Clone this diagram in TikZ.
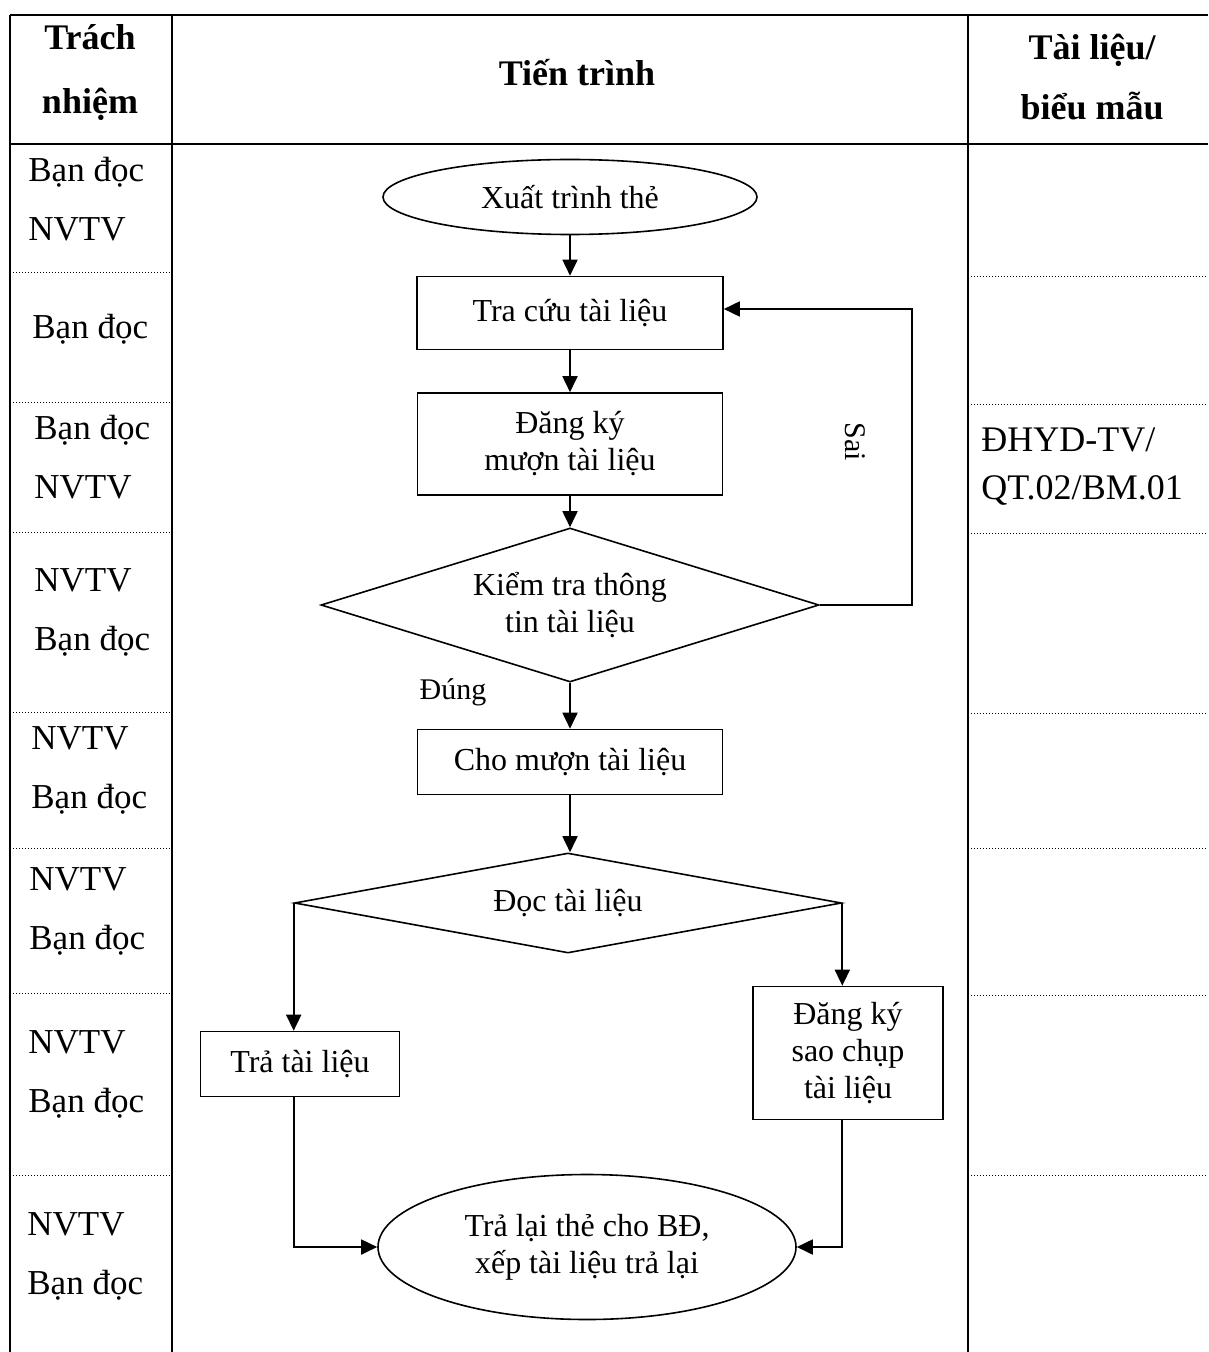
\documentclass[tikz,border=0pt]{standalone}
\usepackage{fontspec}
\setmainfont{Liberation Serif}
\usetikzlibrary{positioning,arrows.meta,shapes.geometric,calc}

\begin{document}
\begin{tikzpicture}[x=0.5pt, y=-0.5pt,
  proc/.style={draw, line width=0.8pt, align=center, inner sep=2pt, font=\fontsize{16}{18.5}\selectfont},
  term/.style={proc, ellipse},
  dec/.style={proc, diamond, shape aspect=3, inner sep=0pt},
  arr/.style={-{Triangle[length=8pt, width=7.5pt]}, line width=0.9pt},
  lbl/.style={inner sep=1pt, font=\fontsize{15}{18}\selectfont},
  who/.style={anchor=west, align=left, inner sep=0pt, font=\fontsize{17.5}{29.5}\selectfont},
  hdr/.style={align=center, font=\bfseries\fontsize{18}{32}\selectfont},
  rule/.style={line width=0.9pt},
  sep/.style={densely dotted, line width=0.5pt},
]
\useasboundingbox (0,0) rectangle (1208,1352);

% table frame
\draw[rule] (10,15) -- (1208,15) (10,144) -- (1208,144);
\foreach \x in {10,172,968} {\draw[rule] (\x,15) -- (\x,1352);}
\foreach \yl/\yr in {273/277,403/405,532/533,712/713,848/848,993/995,1175/1175} {
  \draw[sep] (10,\yl) -- (172,\yl);
  \draw[sep] (968,\yr) -- (1208,\yr);
}

% headers
\node[hdr] (hwho) at (90,73) {Trách\\nhiệm};
\node[hdr] (hflow) at (577,73) {Tiến trình};
\node[hdr, font=\bfseries\fontsize{18}{30}\selectfont] (hdoc) at (1092,77) {Tài liệu/\\biểu mẫu};

% responsibilities
\node[who] (r1) at (28,199) {Bạn đọc\\NVTV};
\node[who] (r2) at (32,329) {Bạn đọc};
\node[who] (r3) at (34,457) {Bạn đọc\\NVTV};
\node[who] (r4) at (34,612) {NVTV\\Bạn đọc};
\node[who] (r5) at (31,770) {NVTV\\Bạn đọc};
\node[who] (r6) at (29,911) {NVTV\\Bạn đọc};
\node[who] (r7) at (28,1074) {NVTV\\Bạn đọc};
\node[who] (r8) at (27,1256) {NVTV\\Bạn đọc};

% forms
\node[who, font=\fontsize{18}{24}\selectfont] (form) at (981,467) {ĐHYD-TV/\\QT.02/BM.01};

% flow
\node[term, minimum width=187pt, minimum height=37.5pt] (show) at (570,197) {Xuất trình thẻ};
\node[proc, minimum width=153pt, minimum height=36.5pt] (search) at (570,313) {Tra cứu tài liệu};
\node[proc, minimum width=152.5pt, minimum height=51pt] (reg) at (570,444) {Đăng ký\\mượn tài liệu};
\node[dec, minimum width=249pt, minimum height=77pt] (check) at (570,605) {Kiểm tra thông\\tin tài liệu};
\node[proc, minimum width=152.5pt, minimum height=32.5pt] (lend) at (570,762) {Cho mượn tài liệu};
\node[dec, minimum width=273.5pt, minimum height=50pt] (read) at (568,903) {Đọc tài liệu};
\node[proc, minimum width=99.5pt, minimum height=32.5pt] (ret) at (300,1064) {Trả tài liệu};
\node[proc, minimum width=95pt, minimum height=66.5pt] (copy) at (848,1053) {Đăng ký\\sao chụp\\tài liệu};
\node[term, minimum width=209pt, minimum height=72.5pt] (back) at (587,1247) {Trả lại thẻ cho BĐ,\\xếp tài liệu trả lại};

\node[lbl, rotate=-90] (no) at (855,442) {Sai};
\node[lbl] (yes) at (453,692) {Đúng};
\coordinate (loop) at (912,309);

\draw[arr] (show) -- (search);
\draw[arr] (search) -- (reg);
\draw[arr] (reg) -- (check);
\draw[arr] (check) -- (lend);
\draw[arr] (lend.south) -- (lend.south |- read.north);
\draw[arr] (check.east) -| (loop) -- (search.east |- loop);
\draw[arr] (read.west) -- (read.west |- ret.north);
\draw[arr] (read.east) -- (read.east |- copy.north);
\draw[arr] (read.west |- ret.south) |- (back.west);
\draw[arr] (read.east |- copy.south) |- (back.east);
\end{tikzpicture}
\end{document}
